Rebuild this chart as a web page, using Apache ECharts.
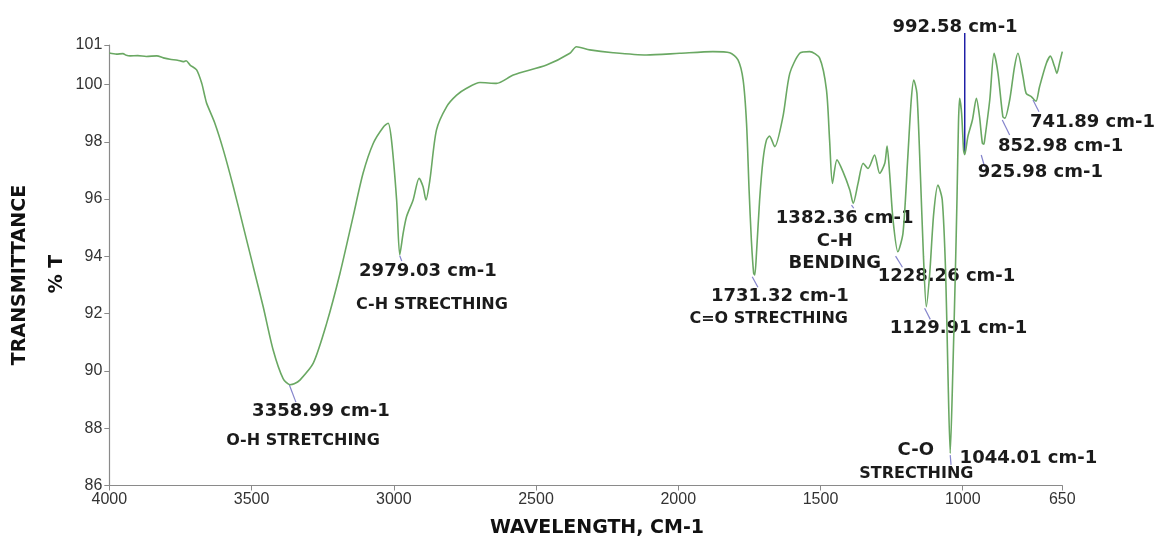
<!DOCTYPE html>
<html>
<head>
<meta charset="utf-8">
<script src="https://cdn.jsdelivr.net/npm/echarts@6/dist/echarts.min.js"></script>
<style>
html,body{margin:0;padding:0;background:#fff;}
#chart{width:1159px;height:543px;}
</style>
</head>
<body>
<div id="chart"></div>
<script>
// ---- Data ----
const wavenumbers = [4000,3975,3952,3940,3927,3900,3870,3833,3810,3787,3760,3740,3730,3716,3693,3675,3664,3658,3629,3599,3564,3529,3494,3459,3424,3389,3365,3350,3330,3283,3236,3189,3143,3108,3072,3037,3020,3008,2990,2979,2967,2955,2932,2911,2897,2887,2873,2850,2814,2779,2744,2697,2639,2580,2463,2381,2358,2311,2229,2112,1995,1878,1819,1790,1772,1760,1751,1743,1735,1731,1725,1714,1702,1690,1679,1661,1632,1608,1573,1538,1503,1479,1468,1458,1442,1421,1397,1385,1368,1350,1333,1310,1292,1274,1266,1257,1245,1228,1210,1193,1181,1172,1161,1149,1138,1128,1116,1102,1087,1072,1060,1052,1044,1035,1026,1020,1015,1011,1004,997,993,982,966,952,941,931,926,923,905,890,876,859,852,835,818,806,788,777,759,748,742,730,706,692,677,669,660,650];
const transmittance = [101.10,101.06,101.08,101.02,101.00,101.01,100.98,101.00,100.93,100.88,100.85,100.80,100.83,100.68,100.51,100.04,99.58,99.35,98.65,97.71,96.43,95.04,93.64,92.24,90.73,89.73,89.52,89.55,89.68,90.27,91.66,93.41,95.39,96.90,97.95,98.51,98.65,98.06,95.97,94.05,94.81,95.39,95.97,96.73,96.43,95.97,96.67,98.41,99.23,99.63,99.87,100.07,100.04,100.33,100.68,101.09,101.32,101.21,101.11,101.03,101.09,101.15,101.11,100.86,100.16,98.65,96.32,94.57,93.41,93.35,94.11,95.97,97.37,98.06,98.20,97.83,98.88,100.39,101.09,101.15,100.92,99.81,98.06,96.55,97.37,96.96,96.32,95.85,96.55,97.25,97.07,97.54,96.90,97.25,97.85,96.90,95.27,94.16,94.81,97.48,99.46,100.16,99.69,96.90,93.99,92.24,93.41,95.50,96.49,95.97,93.41,89.92,87.12,89.92,93.41,96.08,98.65,99.52,99.00,97.71,97.55,98.18,98.76,99.52,98.88,97.95,97.92,98.06,99.46,101.09,100.39,98.88,98.82,99.46,100.62,101.09,100.27,99.69,99.58,99.46,99.42,99.92,100.74,100.99,100.62,100.39,100.74,101.15];

const xTickValues = [4000,3500,3000,2500,2000,1500,1000,650];
const yTickValues = [86,88,90,92,94,96,98,100,101.38];

// annotation texts (wavenumber, %T position)
const labelTexts = ['3358.99 cm-1','O-H STRETCHING','2979.03 cm-1','C-H STRECTHING','1731.32 cm-1','C=O STRECTHING','1382.36 cm-1','C-H','BENDING','1228.26 cm-1','1129.91 cm-1','992.58 cm-1','741.89 cm-1','852.98 cm-1','925.98 cm-1','C-O','1044.01 cm-1','STRECTHING'];
const labelWave = [3256,3319,2880,2866,1643,1682,1415,1450,1450,1057,1015,1027,544,656,727,1165,769,1163];
const labelT = [88.60,87.55,93.49,92.30,92.62,91.81,95.34,94.54,93.77,93.31,91.50,102.01,98.69,97.85,96.95,87.24,86.96,86.40];
const labelBig = [1,0,1,0,1,0,1,1,1,1,1,1,1,1,1,1,1,0];

// leader lines from peaks to labels
const leaderFromWave = [3367,2979,1740,1391,1236,1134,753,861,935,1044,993];
const leaderFromT = [89.51,94.02,93.29,95.79,94.01,92.19,99.46,98.76,97.54,87.06,97.6];
const leaderToWave = [3344,2972,1720,1383,1212,1114,732,835,923,1041,993];
const leaderToT = [88.91,93.84,92.92,95.68,93.62,91.80,99.05,98.24,97.13,86.72,101.80];
const leaderMain = [0,0,0,0,0,0,0,0,0,0,1];

const chart = echarts.init(document.getElementById('chart'));
const tickFont = {fontFamily:'Liberation Sans', fontSize:16, color:'#333'};
chart.setOption({
  animation:false,
  backgroundColor:'#fff',
  grid:{left:109.3, right:96.7, top:45, bottom:57.5},
  xAxis:{
    type:'value', inverse:true, min:650, max:4000,
    splitLine:{show:false},
    axisLine:{lineStyle:{color:'#8a8a8a', width:1.2}},
    axisTick:{customValues:xTickValues, length:5, lineStyle:{color:'#8a8a8a'}},
    axisLabel:Object.assign({customValues:xTickValues, margin:6, formatter:v=>String(v)}, tickFont)
  },
  yAxis:{
    type:'value', min:86, max:101.38,
    splitLine:{show:false},
    axisLine:{show:true, lineStyle:{color:'#8a8a8a', width:1.2}},
    axisTick:{show:true, customValues:yTickValues, length:5, lineStyle:{color:'#8a8a8a'}},
    axisLabel:Object.assign({customValues:yTickValues, margin:7, formatter:v=>String(Math.round(v))}, tickFont)
  },
  graphic:[
    {type:'text', x:20, y:275, rotation:Math.PI/2, style:{text:'TRANSMITTANCE', font:'bold 19px "DejaVu Sans"', fill:'#111', align:'center', verticalAlign:'middle'}},
    {type:'text', x:57, y:274, rotation:Math.PI/2, style:{text:'% T', font:'bold 19px "DejaVu Sans"', fill:'#111', align:'center', verticalAlign:'middle'}},
    {type:'text', x:597, y:528, style:{text:'WAVELENGTH, CM-1', font:'bold 19px "DejaVu Sans"', fill:'#111', align:'center', verticalAlign:'middle'}}
  ],
  series:[
    {
      type:'line', name:'spectrum',
      data:wavenumbers.map((w,i)=>[w, transmittance[i]]),
      showSymbol:false, smooth:0.25,
      lineStyle:{color:'#6aa863', width:1.6},
      silent:true
    },
    {
      type:'custom', name:'leaders', silent:true, clip:false,
      data:leaderFromWave.map((w,i)=>[w, leaderFromT[i], leaderToWave[i], leaderToT[i], i]),
      encode:{x:[0,2], y:[1,3]},
      renderItem:(params, api)=>{
        const a = api.coord([api.value(0), api.value(1)]);
        const b = api.coord([api.value(2), api.value(3)]);
        const main = leaderMain[api.value(4)] === 1;
        return {type:'line', shape:{x1:a[0], y1:a[1], x2:b[0], y2:b[1]},
          style:{stroke: main ? '#1f1fa6' : '#8585cc', lineWidth: main ? 1.5 : 1.2}};
      }
    },
    {
      type:'custom', name:'labels', silent:true, clip:false,
      data:labelWave.map((w,i)=>[w, labelT[i], i]),
      encode:{x:0, y:1},
      renderItem:(params, api)=>{
        const p = api.coord([api.value(0), api.value(1)]);
        const i = api.value(2);
        return {type:'text', x:p[0], y:p[1],
          style:{text:labelTexts[i], fill:'#1b1b1b',
            font: 'bold ' + (labelBig[i] ? 18 : 16) + 'px "DejaVu Sans"',
            align:'center', verticalAlign:'middle'}};
      }
    }
  ]
});
</script>
</body>
</html>
